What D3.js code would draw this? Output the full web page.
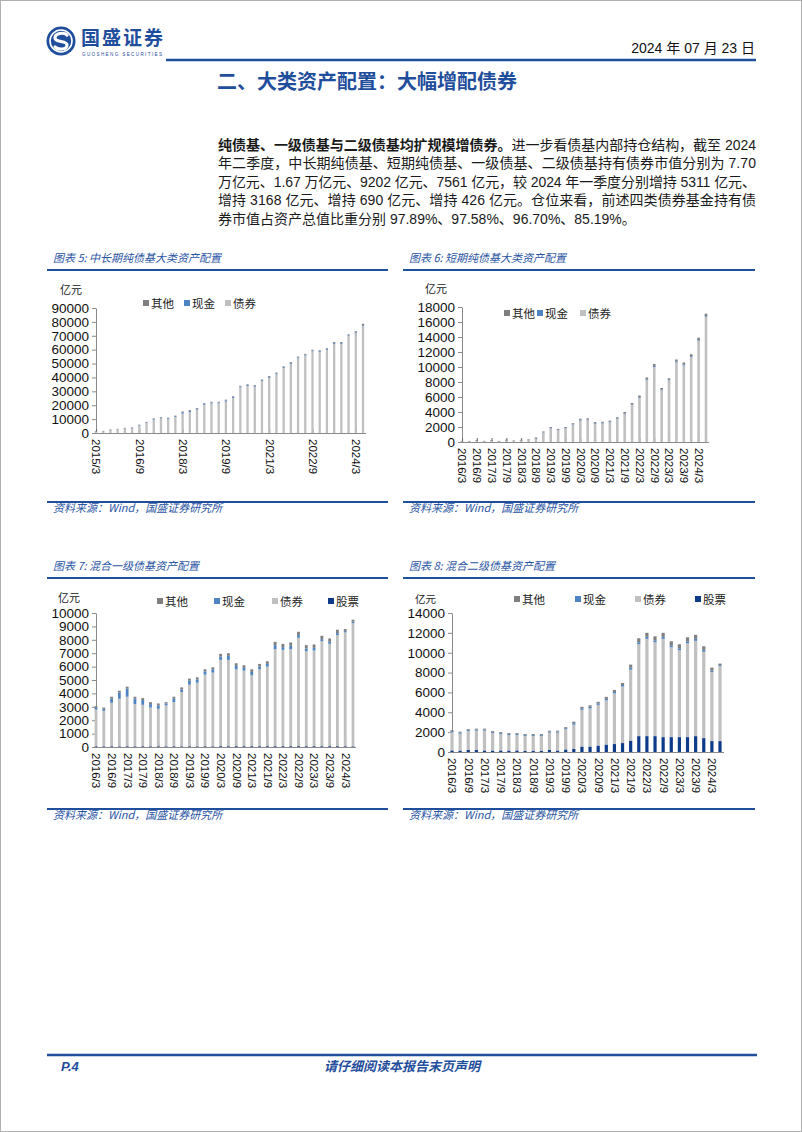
<!DOCTYPE html>
<html><head><meta charset="utf-8">
<script src="https://cdn.jsdelivr.net/npm/d3@7/dist/d3.min.js"></script>
<style>
html,body{margin:0;padding:0;background:#fff;}
svg{display:block;font-family:"Liberation Sans","Noto Sans CJK SC",sans-serif;}
</style></head>
<body>
<script>
// ---------------- DATA ----------------
const catsA = "2015/3 2015/6 2015/9 2015/12 2016/3 2016/6 2016/9 2016/12 2017/3 2017/6 2017/9 2017/12 2018/3 2018/6 2018/9 2018/12 2019/3 2019/6 2019/9 2019/12 2020/3 2020/6 2020/9 2020/12 2021/3 2021/6 2021/9 2021/12 2022/3 2022/6 2022/9 2022/12 2023/3 2023/6 2023/9 2023/12 2024/3 2024/6".split(" ");
const catsB = "2016/3 2016/6 2016/9 2016/12 2017/3 2017/6 2017/9 2017/12 2018/3 2018/6 2018/9 2018/12 2019/3 2019/6 2019/9 2019/12 2020/3 2020/6 2020/9 2020/12 2021/3 2021/6 2021/9 2021/12 2022/3 2022/6 2022/9 2022/12 2023/3 2023/6 2023/9 2023/12 2024/3 2024/6".split(" ");

const ticksA = ["2015/3","2016/9","2018/3","2019/9","2021/3","2022/9","2024/3"];
const ticksB = ["2016/3","2016/9","2017/3","2017/9","2018/3","2018/9","2019/3","2019/9","2020/3","2020/9","2021/3","2021/9","2022/3","2022/9","2023/3","2023/9","2024/3"];

// 图表5 中长期纯债基 (亿元)
const c5Bond  = [900,1000,1900,2400,3000,3300,5200,7200,9600,10500,10000,11500,14000,15000,16800,20300,21300,21300,22600,25300,32800,33800,33300,37300,39700,42300,46800,49800,53800,55800,58800,58300,59800,64200,64200,69700,71700,77000];
const c5Cash  = [200,200,200,200,300,300,400,400,500,600,600,600,1000,1000,700,700,700,700,900,700,700,700,700,700,700,600,600,600,600,600,600,600,600,600,600,600,600,600];
const c5Other = [400,300,400,400,400,400,400,400,400,400,400,400,500,500,500,500,500,500,500,500,500,500,500,500,600,600,600,600,600,600,600,600,600,700,700,700,1000,1000];

// 图表6 短期纯债基
const c6Bond  = [70,70,140,70,140,70,190,120,190,240,460,1250,1820,1570,1820,2320,2870,2920,2420,2470,2620,3070,3700,4900,5900,8250,10000,6900,8200,10600,10200,11300,13500,16700];
const c6Cash  = [20,20,30,20,30,20,30,20,30,30,40,50,60,60,60,60,80,80,80,80,80,80,100,100,100,100,150,100,100,150,150,150,100,100];
const c6Other = [60,60,80,60,80,60,80,60,80,80,100,100,120,120,120,120,150,150,150,150,150,150,200,200,200,250,250,200,200,250,250,250,300,300];

// 图表7 混合一级债基
const c7Stock = [50,50,50,50,50,50,50,50,50,50,50,50,50,50,50,50,60,60,60,60,60,60,60,60,60,60,60,60,60,60,60,60,50,50];
const c7Bond  = [2750,2650,3250,3550,3700,3150,3100,2900,2800,3050,3300,4050,4600,4750,5350,5500,6440,6440,5740,5640,5290,5740,5940,7240,7190,7240,8090,7090,7140,7840,7640,8290,8500,9200];
const c7Cash  = [150,150,300,450,600,400,350,250,250,150,250,200,300,250,250,250,250,300,250,200,250,200,200,300,200,250,200,200,200,150,150,150,100,100];
const c7Other = [100,100,150,150,150,150,150,150,150,100,150,150,150,150,150,150,200,200,200,200,200,200,200,250,250,250,250,250,250,250,250,250,150,150];

// 图表8 混合二级债基
const c8Stock = [150,150,200,200,150,150,150,150,150,100,100,100,200,150,250,300,550,550,650,750,800,900,1150,1600,1600,1600,1500,1500,1500,1500,1600,1400,1100,1100];
const c8Bond  = [1850,1700,1900,1950,2000,1750,1650,1550,1550,1500,1500,1500,1750,1800,2050,2450,3700,3850,4100,4450,5100,5700,7150,9250,9800,9450,9900,9050,8750,9450,9600,8700,6950,7550];
const c8Cash  = [100,100,100,100,100,100,100,100,100,100,100,100,100,100,100,150,150,150,150,150,150,150,200,200,200,200,200,200,200,200,200,200,150,100];
const c8Other = [100,100,100,100,100,100,100,100,100,100,100,100,100,100,100,150,150,150,150,200,200,200,300,400,400,400,400,400,400,400,400,350,300,150];

const COLORS = {"其他":"#7f7f7f","现金":"#4f84c4","债券":"#c0c0c0","股票":"#0e3a8a"};
const BLUE = "#1f4e9c";

// ---------------- PAGE ----------------
const W = 802, H = 1132;
const svg = d3.select("body").append("svg").attr("width", W).attr("height", H);
svg.append("rect").attr("x",0).attr("y",0).attr("width",W).attr("height",H).attr("fill","#fff");
svg.append("rect").attr("x",0.5).attr("y",0.5).attr("width",W-1).attr("height",H-1).attr("fill","none").attr("stroke","#b0b0b0").attr("stroke-width",1);

// logo
const logo = svg.append("g").attr("transform","translate(61,41)");
logo.append("circle").attr("r",14.5).attr("fill",BLUE);
logo.append("circle").attr("r",11).attr("fill","none").attr("stroke","#fff").attr("stroke-width",1.6);
logo.append("path").attr("d","M6,-6 C3,-9 -6,-8 -6,-3 C-6,2 6,-1 6,4 C6,9 -3,9 -6,6")
  .attr("fill","none").attr("stroke","#fff").attr("stroke-width",3.2).attr("stroke-linecap","round");
svg.append("text").attr("x",81).attr("y",45).attr("font-size",19).attr("font-weight","bold")
  .attr("fill",BLUE).attr("font-family","Noto Sans CJK SC").attr("textLength",82).text("国盛证券");
svg.append("text").attr("x",82).attr("y",55.5).attr("font-size",4.6).attr("fill",BLUE)
  .attr("textLength",80).attr("lengthAdjust","spacing").text("GUOSHENG SECURITIES");

svg.append("text").attr("x",755).attr("y",53).attr("font-size",14).attr("text-anchor","end").attr("fill","#111")
  .text("2024 年 07 月 23 日");
svg.append("line").attr("x1",166).attr("x2",756).attr("y1",60).attr("y2",60).attr("stroke",BLUE).attr("stroke-width",2.5);

svg.append("text").attr("x",217).attr("y",89).attr("font-size",20).attr("font-weight","bold").attr("fill",BLUE)
  .attr("font-family","Noto Sans CJK SC").text("二、大类资产配置：大幅增配债券");

// paragraph
const paraLines = [
  [["纯债基、一级债基与二级债基均扩规模增债券。", true], ["进一步看债基内部持仓结构，截至 2024", false]],
  [["年二季度，中长期纯债基、短期纯债基、一级债基、二级债基持有债券市值分别为 7.70", false]],
  [["万亿元、1.67 万亿元、9202 亿元、7561 亿元，较 2024 年一季度分别增持 5311 亿元、", false]],
  [["增持 3168 亿元、增持 690 亿元、增持 426 亿元。仓位来看，前述四类债券基金持有债", false]],
  [["券市值占资产总值比重分别 97.89%、97.58%、96.70%、85.19%。", false]]
];
paraLines.forEach((ln, i) => {
  const t = svg.append("text").attr("x",218).attr("y",150 + i*18.4).attr("font-size",14).attr("fill","#1a1a1a");
  if (i < paraLines.length - 1) t.attr("textLength",538).attr("lengthAdjust","spacing");
  ln.forEach(([s,b]) => t.append("tspan").attr("font-weight", b ? "bold" : "normal").text(s));
});

// footer
svg.append("line").attr("x1",47).attr("x2",757).attr("y1",1055).attr("y2",1055).attr("stroke",BLUE).attr("stroke-width",2.5);
svg.append("text").attr("x",61).attr("y",1071).attr("font-size",13).attr("font-weight","bold").attr("font-style","italic")
  .attr("fill",BLUE).text("P.4");
svg.append("text").attr("x",402).attr("y",1071).attr("font-size",13).attr("font-weight","bold").attr("font-style","italic")
  .attr("text-anchor","middle").attr("fill",BLUE).attr("font-family","Noto Sans CJK SC").text("请仔细阅读本报告末页声明");

// ---------------- CHART FRAME ----------------
function frame(o) {
  svg.append("text").attr("x",o.lx+6).attr("y",o.ty-8).attr("font-size",11).attr("font-style","italic")
    .attr("fill","#2a55a3").attr("font-family","Noto Sans CJK SC").text(o.title);
  svg.append("line").attr("x1",o.lx).attr("x2",o.rx).attr("y1",o.ty).attr("y2",o.ty).attr("stroke",BLUE).attr("stroke-width",2);
  svg.append("line").attr("x1",o.lx).attr("x2",o.rx).attr("y1",o.sy).attr("y2",o.sy).attr("stroke",BLUE).attr("stroke-width",2);
  svg.append("text").attr("x",o.lx+6).attr("y",o.sy+10).attr("font-size",11).attr("font-style","italic")
    .attr("fill","#2a55a3").attr("font-family","Noto Sans CJK SC").text("资料来源：Wind，国盛证券研究所");
}

function drawChart(o) {
  const g = svg.append("g");
  const x = d3.scalePoint().domain(o.cats).range([o.x0, o.x1]);
  const y = d3.scaleLinear().domain([0, o.ymax]).range([o.y0, o.yTop]);
  const keys = o.series.map(s => s.name);
  const rows = o.cats.map((c, i) => { const r = {cat: c}; o.series.forEach(s => r[s.name] = s.values[i]); return r; });
  const stacked = d3.stack().keys(keys)(rows);

  // y axis
  const ya = d3.axisLeft(y).tickValues(d3.range(0, o.ymax + 1, o.step)).tickSizeInner(4).tickSizeOuter(0).tickPadding(3).tickFormat(d3.format("d"));
  const yg = g.append("g").attr("transform", `translate(${o.x0},0)`).call(ya);
  yg.select(".domain").attr("stroke", "#8a8a8a");
  yg.selectAll(".tick line").attr("stroke", "#8a8a8a");
  yg.selectAll(".tick text").attr("font-size", 13.5).attr("fill", "#111").attr("font-family","Liberation Sans");

  // x axis
  const xa = d3.axisBottom(x).tickValues(o.ticks).tickSizeInner(-4).tickSizeOuter(0);
  const xg = g.append("g").attr("transform", `translate(0,${o.y0})`).call(xa);
  xg.select(".domain").remove();
  xg.append("line").attr("x1", o.x0).attr("x2", o.xEnd).attr("y1", 0.5).attr("y2", 0.5).attr("stroke", "#8a8a8a");
  xg.selectAll(".tick line").attr("stroke", "#666");
  xg.selectAll(".tick text").attr("transform", "rotate(90)").attr("x", 6).attr("y", 0).attr("dy", "0.36em")
    .style("text-anchor", "start").attr("font-size", 11.5).attr("fill", "#111").attr("font-family","Liberation Sans");

  // bars (on top of axis lines)
  g.append("g").selectAll("g").data(stacked).join("g").attr("fill", d => COLORS[d.key])
    .selectAll("rect").data(d => d).join("rect")
    .attr("x", d => x(d.data.cat) - o.bw/2).attr("width", o.bw)
    .attr("y", d => y(d[1])).attr("height", d => Math.max(0, y(d[0]) - y(d[1])));

  // unit
  g.append("text").attr("x", o.ux).attr("y", o.uy).attr("font-size", o.us || 11).attr("fill", "#222")
    .attr("font-family","Noto Sans CJK SC").attr("dominant-baseline","central").text("亿元");

  // legend
  o.legend.forEach(([name, lx]) => {
    g.append("rect").attr("x", lx).attr("y", o.ly - 3).attr("width", 6).attr("height", 6).attr("fill", COLORS[name]);
    g.append("text").attr("x", lx + 8).attr("y", o.ly).attr("font-size", 11.5).attr("fill", "#222")
      .attr("font-family","Noto Sans CJK SC").attr("dominant-baseline","central").text(name);
  });
}

// 图表5
frame({lx:47, rx:388, ty:270, sy:502, title:"图表 5:  中长期纯债基大类资产配置"});
drawChart({cats:catsA, ticks:ticksA, x0:96, x1:363, xEnd:366, y0:433, yTop:308, ymax:90000, step:10000, bw:2.3,
  series:[{name:"债券",values:c5Bond},{name:"现金",values:c5Cash},{name:"其他",values:c5Other}],
  ux:60, uy:289, ly:303, legend:[["其他",143],["现金",184],["债券",225]]});

// 图表6
frame({lx:403, rx:755, ty:270, sy:502, title:"图表 6:  短期纯债基大类资产配置"});
drawChart({cats:catsB, ticks:ticksB, x0:462, x1:706, xEnd:709, y0:442, yTop:307, ymax:18000, step:2000, bw:2.6,
  series:[{name:"债券",values:c6Bond},{name:"现金",values:c6Cash},{name:"其他",values:c6Other}],
  ux:425, uy:288, ly:313, legend:[["其他",504],["现金",537],["债券",580]]});

// 图表7
frame({lx:47, rx:388, ty:578, sy:809, title:"图表 7:  混合一级债基资产配置"});
drawChart({cats:catsB, ticks:ticksB, x0:96, x1:353, xEnd:356, y0:747, yTop:613, ymax:10000, step:1000, bw:2.8,
  series:[{name:"股票",values:c7Stock},{name:"债券",values:c7Bond},{name:"现金",values:c7Cash},{name:"其他",values:c7Other}],
  ux:58, uy:597, ly:601, legend:[["其他",157],["现金",214],["债券",272],["股票",328]]});

// 图表8
frame({lx:403, rx:755, ty:578, sy:809, title:"图表 8:  混合二级债基资产配置"});
drawChart({cats:catsB, ticks:ticksB, x0:452, x1:720, xEnd:724, y0:752, yTop:613, ymax:14000, step:2000, bw:3.2,
  series:[{name:"股票",values:c8Stock},{name:"债券",values:c8Bond},{name:"现金",values:c8Cash},{name:"其他",values:c8Other}],
  ux:415, uy:598, us:10.5, ly:599, legend:[["其他",514],["现金",575],["债券",635],["股票",695]]});
</script>
</body></html>
